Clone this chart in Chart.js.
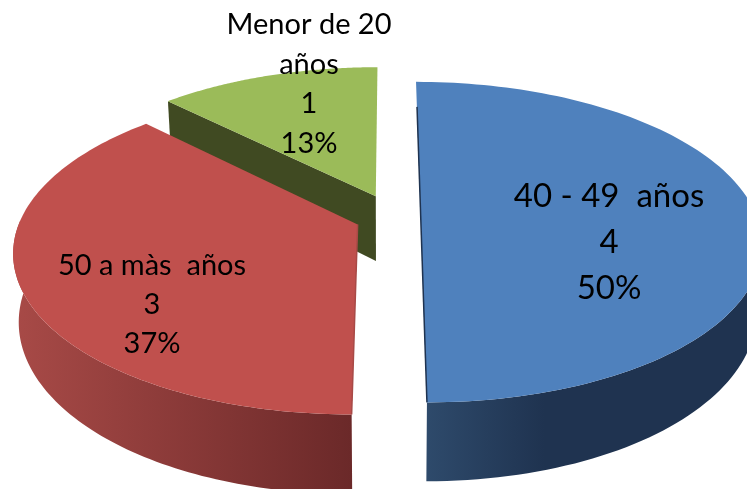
<!DOCTYPE html>
<html><head><meta charset="utf-8">
<style>html,body{margin:0;padding:0;background:#fff;overflow:hidden}canvas{display:block}</style>
<script src="https://cdn.jsdelivr.net/npm/chart.js@4"></script>
</head><body><canvas id="c" width="747" height="489" style="width:747px;height:489px"></canvas>
<script>
const categories = ['40 - 49  años', '50 a màs  años', 'Menor de 20 años'];
const counts = [4, 3, 1];
const percents = ['50%', '37%', '13%'];
const topColors = ['#4F81BD', '#C0504D', '#9BBB59'];

// view of the tilted pie
const V = {ox:388, oy:216, rx:336, ry:156, k:0.163, ex:0.097, ey:0.14, depth:66, taper:0.985};
function project(X, Y){
  const s = 1/(1+V.k*Y);
  return {x:V.ox+X*V.rx*s, y:V.oy-Y*V.ry*s, s};
}
function wallColors(i){
  return [['#2E4A6B','#1F3350',0.35,'#1F3350'],['#A84A47','#6B2929',1,'#6B2929'],['#404A22','#404A22',1,'#404A22']][i];
}
const labelStyles = [
  {size:33, lh:46, x:609, y:196, lines:['40 - 49  años']},
  {size:29, lh:39, x:152, y:266, lines:['50 a màs  años']},
  {size:29, lh:39.5, x:309, y:25, lines:['Menor de 20','años']}
];
function arcsAngle(a,j,n){
  const a0=a.startAngle+Math.PI/2,a1=a.endAngle+Math.PI/2;
  return a0+(a1-a0)*j/n;
}
const pie3d = {
  id:'pie3d',
  beforeDatasetsDraw(chart){
    const ctx = chart.ctx, arcs = chart.getDatasetMeta(0).data;
    const n=120;
    const shapes = arcs.map((a,i)=>{
      // Chart.js angles start at -PI/2 = north, running clockwise
      const a0=a.startAngle+Math.PI/2, a1=a.endAngle+Math.PI/2, m=(a0+a1)/2;
      const dx=Math.sin(m)*V.ex, dy=Math.cos(m)*V.ey;
      const rim=[];
      for(let j=0;j<=n;j++){
        const t=a0+(a1-a0)*j/n;
        rim.push(project(dx+Math.sin(t), dy+Math.cos(t)));
      }
      return {i, rim, apex:project(dx,dy), color:a.options.backgroundColor};
    });
    const down=(p)=>({x:V.ox+(p.x-V.ox)*V.taper, y:p.y+V.depth*p.s});
    [2,1,0].forEach(idx=>{
      const S=shapes[idx], w=wallColors(idx);
      if(idx===2){
        // green cut face, from the rim's far end back to the apex
        const far=S.rim[0], b=S.apex, db=down(b), da=down(far);
        ctx.fillStyle=w[0];
        ctx.beginPath();
        ctx.moveTo(far.x,far.y);ctx.lineTo(b.x,b.y);
        ctx.lineTo(db.x,db.y);ctx.lineTo(da.x,da.y);ctx.closePath();ctx.fill();
      }
      const vis=S.rim.filter((p,j)=>Math.cos(arcsAngle(arcs[idx],j,n))<=0.02);
      if(idx!==2 && vis.length>1){
        const xs=vis.map(p=>p.x);
        const x0=Math.min(...xs), x1=Math.max(...xs);
        const g=ctx.createLinearGradient(x0,0,x1,0);
        g.addColorStop(0,w[0]);
        g.addColorStop(w[2],w[1]);
        g.addColorStop(1,w[3]);
        ctx.fillStyle=g;
        ctx.beginPath();
        vis.forEach((p,j)=>j?ctx.lineTo(p.x,p.y):ctx.moveTo(p.x,p.y));
        vis.slice().reverse().forEach(p=>{const d=down(p);ctx.lineTo(d.x,d.y);});
        ctx.closePath();ctx.fill();
      }
      ctx.fillStyle=S.color;
      ctx.beginPath();
      ctx.moveTo(S.apex.x,S.apex.y);
      S.rim.forEach(p=>ctx.lineTo(p.x,p.y));
      ctx.closePath();ctx.fill();
      // thin sliver of the cut face along the straight edge
      if(idx<2){
        const near=idx===0?S.rim[n]:S.rim[0];
        const end=idx===0?{x:S.rim[0].x+1,y:S.rim[0].y+25}:S.apex;
        ctx.strokeStyle=idx===0?'#1F3350':'#A84A47';
        ctx.lineWidth=1.5;
        ctx.beginPath();ctx.moveTo(near.x,near.y);ctx.lineTo(end.x,end.y);ctx.stroke();
      }
    });
    return false;
  },
  afterDraw(chart){
    const ctx=chart.ctx;
    ctx.save();
    ctx.fillStyle='#000';ctx.textAlign='center';ctx.textBaseline='middle';
    labelStyles.forEach((L,i)=>{
      ctx.font=L.size+'px Lato, sans-serif';
      const rows=[...L.lines,String(counts[i]),percents[i]];
      rows.forEach((r,j)=>ctx.fillText(r,L.x,L.y+j*L.lh));
    });
    ctx.restore();
  }
};
new Chart(document.getElementById('c'),{
  type:'pie',
  data:{labels:categories,datasets:[{data:counts,backgroundColor:topColors,borderWidth:0}]},
  options:{responsive:false,animation:false,rotation:0,
    plugins:{legend:{display:false},tooltip:{enabled:false}},layout:{padding:0}},
  plugins:[pie3d]
});
</script>
</body></html>
